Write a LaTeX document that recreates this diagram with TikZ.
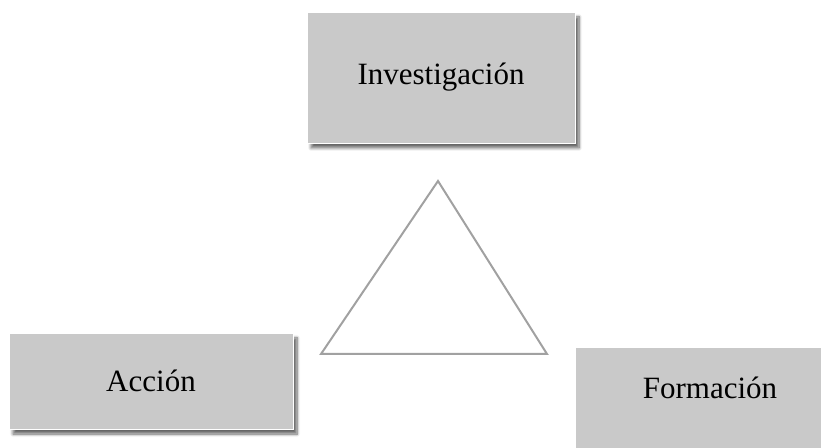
\documentclass[tikz,border=0pt]{standalone}
\usepackage{fontspec}
\setmainfont{Liberation Serif}
\usetikzlibrary{shadows.blur}
\colorlet{boxgray}{black!21}
\colorlet{trigray}{black!37}

\tikzset{
  areabox/.style={rectangle, fill=boxgray, draw=white, line width=0.8pt,
    inner sep=0pt, font=\fontsize{31}{36}\selectfont,
    blur shadow={shadow xshift=4pt, shadow yshift=-5pt, shadow blur steps=8,
      shadow blur radius=3pt, shadow opacity=60}}
}

\begin{document}
\begin{tikzpicture}[x=1pt, y=1pt]
      \useasboundingbox (0,0) rectangle (821,447);
      \clip (0,0) rectangle (821,447);
      % Boxes
      \node[areabox, minimum width=268, minimum height=131] (inv) at (441, 369.5) {Investigación};
      \node[areabox, minimum width=284, minimum height=96] (acc) at (151, 66) {Acción};
      % this one runs off the page at the right and bottom
      \node[areabox, minimum width=270, text height=51, text depth=79, anchor=base] (form) at (710, 49) {Formación};
      % Triangle
      \coordinate (top) at (438, 266);
      \coordinate (bl) at (321, 93);
      \coordinate (br) at (547, 93);
      \draw[trigray, line width=2pt] (top) -- (br) -- (bl) -- cycle;
\end{tikzpicture}
\end{document}
